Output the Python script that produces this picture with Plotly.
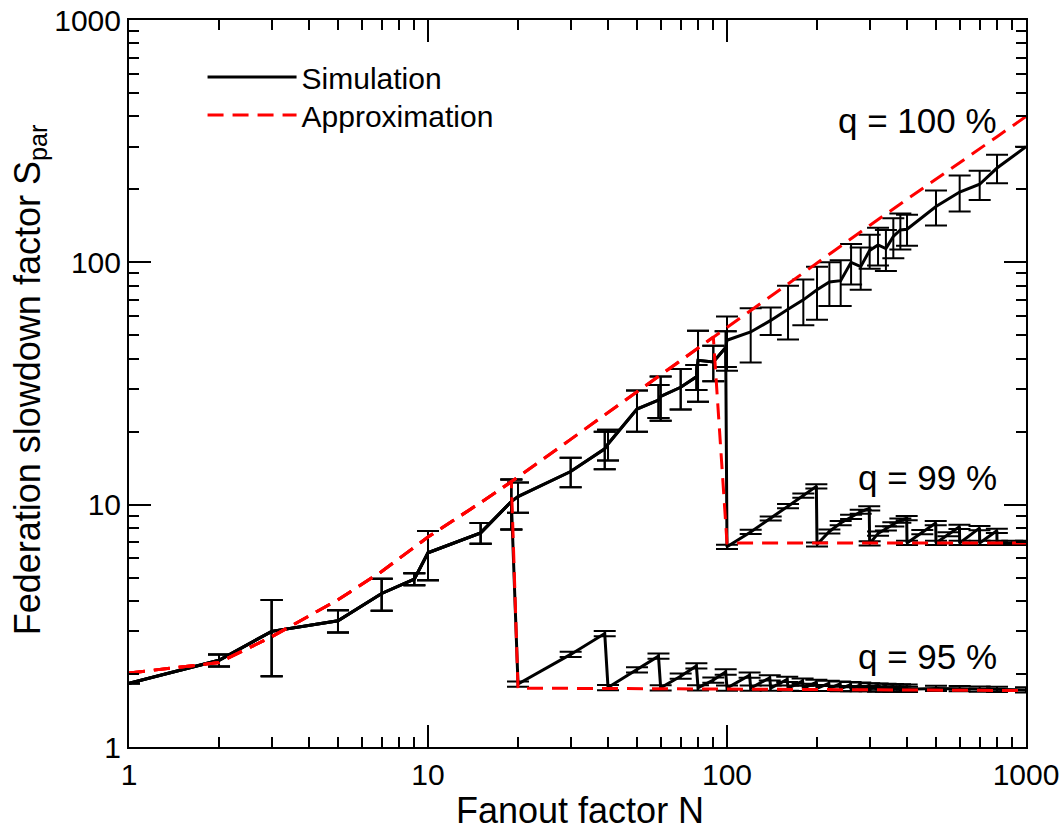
import plotly.graph_objects as go

# ---------------- data ----------------
# q = 100 % simulation
q100_N = [1, 2, 3, 5, 7, 9, 10, 15, 19, 20, 30, 39, 40, 50, 59, 60, 70, 79, 80, 90, 99, 100,
          120, 140, 160, 180, 200, 220, 240, 260, 280, 300, 320, 340, 360, 380, 400,
          500, 600, 700, 800, 1000]
q100_S = [1.83, 2.28, 3.0, 3.32, 4.3, 4.93, 6.33, 7.65, 10.3, 10.8, 13.7, 17.0, 17.8, 24.8, 27.0, 28.0,
          30.5, 33.7, 39.4, 38.8, 44.5, 47.7,
          51.6, 57.6, 64.0, 70.0, 77.0, 83.0, 84.0, 100.0, 96.0, 112.0, 118.0, 114.0, 128.0, 136.0, 137.0,
          170.0, 195.0, 210.0, 245.0, 300.0]
q100_err = [0.0, 0.13, 1.04, 0.35, 0.65, 0.28, 1.45, 0.75, 2.4, 1.55, 1.9, 3.0, 2.6, 4.8, 4.2, 5.8,
            5.8, 4.0, 12.8, 6.5, 7.5, 12.0,
            13.0, 7.5, 16.0, 15.0, 19.0, 17.0, 18.0, 19.0, 19.0, 18.0, 21.0, 22.0, 24.0, 23.0, 20.0,
            28.0, 33.0, 29.0, 33.0, 0.0]

# q = 95 % simulation (after the drop at N = 20)
q95_tail_N = [20, 30, 39, 40, 50, 59, 60, 70, 79, 80, 90, 99, 100, 119, 120, 139, 140, 159, 160,
              179, 180, 199, 200, 219, 220, 239, 240, 259, 260, 279, 280, 299, 300, 319, 320,
              339, 340, 359, 360, 379, 380, 399, 400, 500, 600, 700, 800, 1000]
q95_tail_S = [1.82, 2.41, 2.94, 1.76, 2.08, 2.37, 1.755, 1.96, 2.16, 1.755, 1.89, 2.04, 1.75, 1.98, 1.75,
              1.93, 1.75, 1.90, 1.75, 1.87, 1.745, 1.85, 1.745, 1.83, 1.745, 1.82, 1.74, 1.81, 1.74,
              1.80, 1.74, 1.79, 1.74, 1.785, 1.735, 1.78, 1.735, 1.775, 1.735, 1.77, 1.735, 1.765, 1.73,
              1.745, 1.74, 1.735, 1.73, 1.72]

# q = 99 % simulation (after the drop at N = 100)
q99_tail_N = [100, 120, 140, 160, 180, 199, 200, 220, 240, 260, 280, 299, 300, 320, 340, 360, 380,
              399, 400, 450, 499, 500, 550, 599, 600, 699, 700, 799, 800, 900, 1000]
q99_tail_S = [6.70, 7.72, 8.77, 9.86, 10.9, 11.9, 6.85, 7.75, 8.4, 8.9, 9.35, 9.65, 6.92, 7.6, 7.98,
              8.3, 8.6, 8.8, 6.95, 7.7, 8.4, 6.95, 7.55, 8.1, 6.95, 8.0, 6.95, 7.8, 6.95, 6.95, 6.95]

# approximation, q = 100 %
apx100_N = [1, 2, 3, 5, 7, 10, 15, 19, 20, 30, 40, 50, 60, 70, 80, 90, 100,
            200, 300, 400, 500, 600, 700, 800, 900, 1000]
apx100_S = [2.02, 2.23, 2.85, 4.05, 5.3, 7.35, 10.2, 12.4, 13.0, 18.6, 24.0, 29.2, 34.4, 39.4, 44.3,
            49.2, 54.0, 100.0, 142.0, 182.0, 221.0, 258.0, 294.0, 330.0, 365.0, 400.0]
# approximation tails after the drops
apx95_tail_N = [20, 40, 100, 200, 400, 1000]
apx95_tail_S = [1.75, 1.745, 1.735, 1.725, 1.72, 1.71]
apx99_tail_N = [100, 200, 400, 1000]
apx99_tail_S = [6.95, 6.95, 6.95, 6.95]

q_labels = ["q = 100 %", "q = 99 %", "q = 95 %"]

# ---------------- build series ----------------
head95 = [i for i, n in enumerate(q100_N) if n <= 19]
q95_N = [q100_N[i] for i in head95] + q95_tail_N
q95_S = [q100_S[i] for i in head95] + q95_tail_S
q95_err = [q100_err[i] for i in head95] + [0.025 * s for s in q95_tail_S]

head99 = [i for i, n in enumerate(q100_N) if n <= 99]
q99_N = [q100_N[i] for i in head99] + q99_tail_N
q99_S = [q100_S[i] for i in head99] + q99_tail_S
q99_err = [q100_err[i] for i in head99] + [0.02 * s for s in q99_tail_S]

a95_N = [n for n in apx100_N if n <= 19] + apx95_tail_N
a95_S = [s for n, s in zip(apx100_N, apx100_S) if n <= 19] + apx95_tail_S
a99_N = [n for n in apx100_N if n <= 90] + apx99_tail_N
a99_S = [s for n, s in zip(apx100_N, apx100_S) if n <= 90] + apx99_tail_S

FONT = "Liberation Sans, Arial, sans-serif"
fig = go.Figure()

def sim_trace(N, S, E, show):
    return go.Scatter(x=N, y=S, mode="lines", name="Simulation", legend="legend",
                      showlegend=show, line=dict(color="black", width=3),
                      error_y=dict(type="data", array=E, color="black", thickness=2, width=11))

def apx_trace(N, S, show):
    return go.Scatter(x=N, y=S, mode="lines", name="Approximation", legend="legend2",
                      showlegend=show, line=dict(color="#ff0000", width=3, dash="16px,9px"))

fig.add_trace(sim_trace(q100_N, q100_S, q100_err, True))
fig.add_trace(sim_trace(q99_N, q99_S, q99_err, False))
fig.add_trace(sim_trace(q95_N, q95_S, q95_err, False))
fig.add_trace(apx_trace(apx100_N, apx100_S, True))
fig.add_trace(apx_trace(a99_N, a99_S, False))
fig.add_trace(apx_trace(a95_N, a95_S, False))

minor_vals = [m * 10 ** d for d in range(3) for m in range(2, 10)]
axis_common = dict(type="log", range=[0, 3], showgrid=False, zeroline=False, automargin=False,
                   showline=True, linecolor="black", linewidth=2, mirror="allticks",
                   ticks="inside", ticklen=22, tickwidth=1.5, tickcolor="black",
                   tickmode="array", tickvals=[1, 10, 100, 1000],
                   ticktext=["1", "10", "100", "1000"], ticklabeloverflow="allow",
                   tickfont=dict(family=FONT, size=30, color="black"),
                   minor=dict(ticks="inside", ticklen=10, tickwidth=1.5, tickcolor="black",
                              tickmode="array", tickvals=minor_vals, showgrid=False))
fig.update_xaxes(**axis_common)
fig.update_yaxes(**axis_common)

ann = [
    dict(text="Fanout factor N", x=0.503, y=-0.0867, xref="paper", yref="paper",
         xanchor="center", yanchor="middle", showarrow=False,
         font=dict(family=FONT, size=36, color="black")),
    dict(text="Federation slowdown factor S<sub>par</sub>", x=-0.111, y=0.505, xref="paper",
         yref="paper", xanchor="center", yanchor="middle", textangle=-90, showarrow=False,
         font=dict(family=FONT, size=36, color="black")),
]
for txt, yp in zip(q_labels, [0.862, 0.371, 0.125]):
    ann.append(dict(text=txt, x=0.970, y=yp, xref="paper", yref="paper", xanchor="right",
                    yanchor="middle", showarrow=False,
                    font=dict(family=FONT, size=35, color="black")))

leg_common = dict(xanchor="left", yanchor="middle", bgcolor="rgba(0,0,0,0)", itemwidth=89,
                  font=dict(family=FONT, size=30, color="black"))
fig.update_layout(
    width=1064, height=831,
    margin=dict(l=129, r=38, t=20, b=84),
    paper_bgcolor="white", plot_bgcolor="white",
    font=dict(family=FONT, size=30, color="black"),
    annotations=ann,
    legend=dict(x=0.082, y=0.9216, **leg_common),
    legend2=dict(x=0.082, y=0.8693, **leg_common),
)

# remove the default 8 px page margin so the 1064x831 figure fills the window exactly
fig.write_html("out.html", config={"displayModeBar": False},
               post_script="document.body.style.margin='0px';")
